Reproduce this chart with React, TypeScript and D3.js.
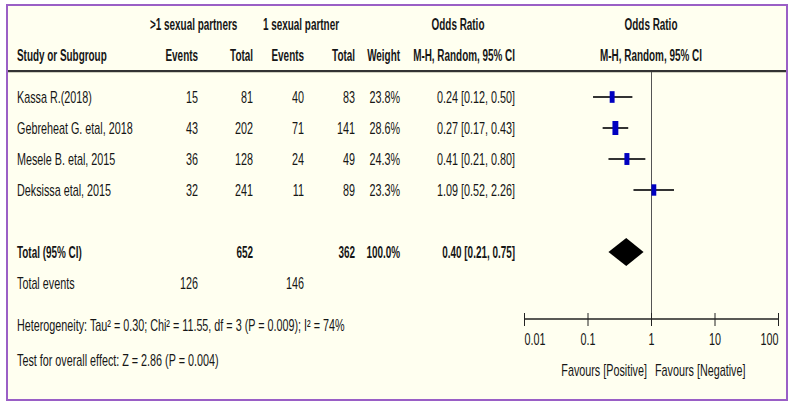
import React from "react";
import * as d3 from "d3";

const studies = ["Kassa R.(2018)", "Gebreheat G. etal, 2018", "Mesele B. etal, 2015", "Deksissa etal, 2015"];
const events1 = [15, 43, 36, 32];
const total1 = [81, 202, 128, 241];
const events2 = [40, 71, 24, 11];
const total2 = [83, 141, 49, 89];
const weights = [23.8, 28.6, 24.3, 23.3];
const oddsRatio = [0.24, 0.27, 0.41, 1.09];
const ciLow = [0.12, 0.17, 0.21, 0.52];
const ciHigh = [0.5, 0.43, 0.8, 2.26];

const pooledTotals = [652, 362];
const pooledWeight = "100.0%";
const pooledOR = 0.4;
const pooledLow = 0.21;
const pooledHigh = 0.75;
const totalEvents = [126, 146];

const tickValues = [0.01, 0.1, 1, 10, 100];
const tickLabels = ["0.01", "0.1", "1", "10", "100"];

const heterogeneityText = "Heterogeneity: Tau\u00b2 = 0.30; Chi\u00b2 = 11.55, df = 3 (P = 0.009); I\u00b2 = 74%";
const overallText = "Test for overall effect: Z = 2.86 (P = 0.004)";

const FONT = "'Liberation Sans', Arial, sans-serif";
const TXT = "#161616";
const FS = 16;
const SCALE_REG = 0.675;
const SCALE_BOLD = 0.62;

type TProps = { x: number; y: number; anchor?: "start" | "middle" | "end"; bold?: boolean; children: React.ReactNode };
function T({ x, y, anchor = "start", bold = false, children }: TProps) {
  const s = bold ? SCALE_BOLD : SCALE_REG;
  return (
    <text
      transform={`translate(${x},${y}) scale(${s},1)`}
      textAnchor={anchor}
      fontWeight={bold ? "bold" : "normal"}
    >
      {children}
    </text>
  );
}

export default function App() {
  const x = d3.scaleLog().domain([0.01, 100]).range([524.5, 778.5]);
  const rowY = d3.scaleLinear().domain([0, 1]).range([97, 128]);
  const sizeScale = d3.scaleLinear().domain([0, 28.6]).range([0, 14]);
  const fmt2 = d3.format(".2f");
  const fmtW = (w: number) => d3.format(".1f")(w) + "%";
  const orText = (o: number, l: number, h: number) => `${fmt2(o)} [${fmt2(l)}, ${fmt2(h)}]`;

  const col = { ev1: 198, tot1: 253, ev2: 304, tot2: 355, w: 400, or: 515 };
  const axisY = 319;
  const totalY = 252;
  const dy = 6;

  const diamond = d3.line()([
    [x(pooledLow), totalY],
    [x(pooledOR), totalY - 14],
    [x(pooledHigh), totalY],
    [x(pooledOR), totalY + 14],
  ]) + "Z";

  const tickAnchor = (i: number) => (i === 0 ? "start" : i === tickValues.length - 1 ? "end" : "middle");

  return (
    <svg width={796} height={407} style={{ position: "fixed", left: 0, top: 0, display: "block" }} fontFamily={FONT} fontSize={FS} fill={TXT}>
      <rect x={0} y={0} width={796} height={407} fill="#ffffff" />
      <rect x={7} y={5} width={780} height={395} fill="#fffff0" stroke="#9a5fc6" strokeWidth={2} />

      {/* headers */}
      <T x={150} y={30} bold>{">1 sexual partners"}</T>
      <T x={263} y={30} bold>1 sexual partner</T>
      <T x={458} y={30} anchor="middle" bold>Odds Ratio</T>
      <T x={651} y={30} anchor="middle" bold>Odds Ratio</T>
      <T x={17} y={61} bold>Study or Subgroup</T>
      <T x={col.ev1} y={61} anchor="end" bold>Events</T>
      <T x={col.tot1} y={61} anchor="end" bold>Total</T>
      <T x={col.ev2} y={61} anchor="end" bold>Events</T>
      <T x={col.tot2} y={61} anchor="end" bold>Total</T>
      <T x={col.w} y={61} anchor="end" bold>Weight</T>
      <T x={col.or} y={61} anchor="end" bold>M-H, Random, 95% CI</T>
      <T x={651} y={61} anchor="middle" bold>M-H, Random, 95% CI</T>

      <line x1={8} x2={786} y1={71} y2={71} stroke="#333" strokeWidth={2} />
      <line x1={8} x2={786} y1={72.5} y2={72.5} stroke="#cfcfbf" strokeWidth={1} />

      {/* null line */}
      <line x1={x(1)} x2={x(1)} y1={72} y2={axisY} stroke="#555" strokeWidth={1} />

      {/* study rows */}
      {studies.map((s, i) => {
        const y = rowY(i);
        const h = sizeScale(weights[i]);
        const w = h * 0.42;
        return (
          <g key={s}>
            <T x={17} y={y + dy}>{s}</T>
            <T x={col.ev1} y={y + dy} anchor="end">{events1[i]}</T>
            <T x={col.tot1} y={y + dy} anchor="end">{total1[i]}</T>
            <T x={col.ev2} y={y + dy} anchor="end">{events2[i]}</T>
            <T x={col.tot2} y={y + dy} anchor="end">{total2[i]}</T>
            <T x={col.w} y={y + dy} anchor="end">{fmtW(weights[i])}</T>
            <T x={col.or} y={y + dy} anchor="end">{orText(oddsRatio[i], ciLow[i], ciHigh[i])}</T>
            <line x1={x(ciLow[i])} x2={x(ciHigh[i])} y1={y} y2={y} stroke="#333" strokeWidth={2} />
            <rect x={x(oddsRatio[i]) - w / 2} y={y - h / 2} width={w} height={h} fill="#0000c0" />
          </g>
        );
      })}

      {/* total row */}
      <T x={17} y={totalY + dy} bold>Total (95% CI)</T>
      <T x={col.tot1} y={totalY + dy} anchor="end" bold>{pooledTotals[0]}</T>
      <T x={col.tot2} y={totalY + dy} anchor="end" bold>{pooledTotals[1]}</T>
      <T x={col.w} y={totalY + dy} anchor="end" bold>{pooledWeight}</T>
      <T x={col.or} y={totalY + dy} anchor="end" bold>{orText(pooledOR, pooledLow, pooledHigh)}</T>
      <path d={diamond} fill="#000" />

      <T x={17} y={283 + dy}>Total events</T>
      <T x={col.ev1} y={283 + dy} anchor="end">{totalEvents[0]}</T>
      <T x={col.ev2} y={283 + dy} anchor="end">{totalEvents[1]}</T>
      <T x={17} y={325 + dy}>{heterogeneityText}</T>
      <T x={17} y={360 + dy}>{overallText}</T>

      {/* axis */}
      <line x1={x(0.01)} x2={x(100)} y1={axisY} y2={axisY} stroke="#222" strokeWidth={1.5} />
      {tickValues.map((t, i) => (
        <g key={t}>
          <line x1={x(t)} x2={x(t)} y1={axisY - 6} y2={axisY + 7} stroke="#222" strokeWidth={1} />
          <T x={x(t)} y={345} anchor={tickAnchor(i)}>{tickLabels[i]}</T>
        </g>
      ))}
      <T x={647} y={376} anchor="end">Favours [Positive]</T>
      <T x={655} y={376}>Favours [Negative]</T>
    </svg>
  );
}
